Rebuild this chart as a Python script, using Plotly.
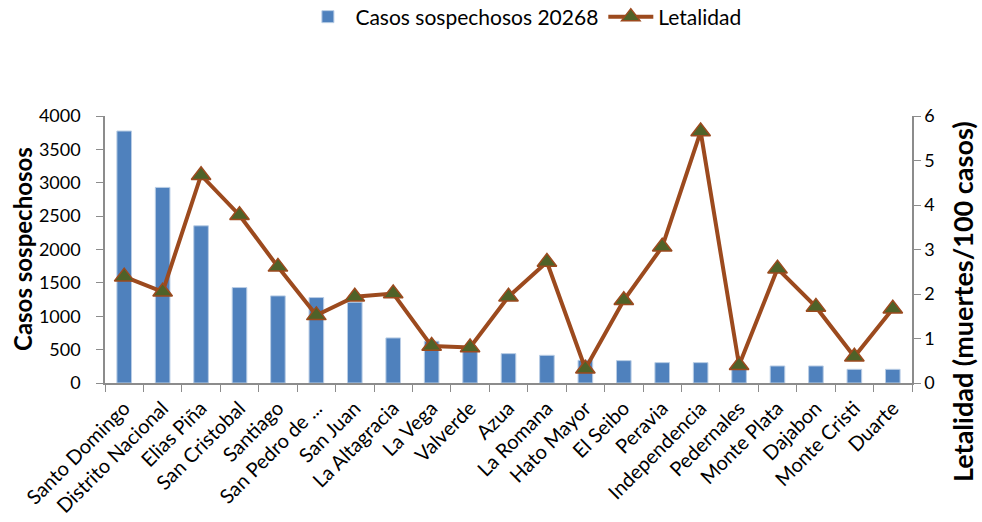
import plotly.graph_objects as go

provincias = [
    "Santo Domingo", "Distrito Nacional", "Elias Piña", "San Cristobal", "Santiago",
    "San Pedro de ...", "San Juan", "La Altagracia", "La Vega", "Valverde", "Azua",
    "La Romana", "Hato Mayor", "El Seibo", "Peravia", "Independencia", "Pedernales",
    "Monte Plata", "Dajabon", "Monte Cristi", "Duarte",
]
casos = [3775, 2930, 2355, 1430, 1305, 1280, 1210, 675, 625, 515, 440,
         415, 340, 335, 305, 305, 255, 255, 255, 205, 205]
letalidad = [2.39, 2.05, 4.67, 3.77, 2.61, 1.52, 1.94, 2.01, 0.83, 0.80, 1.94,
             2.72, 0.32, 1.86, 3.06, 5.65, 0.40, 2.57, 1.71, 0.59, 1.67]
y_ticks = [0, 500, 1000, 1500, 2000, 2500, 3000, 3500, 4000]
y2_ticks = [0, 1, 2, 3, 4, 5, 6]

FONT = "Lato"
AXIS_GRAY = "#8c8c8c"

fig = go.Figure()
fig.add_trace(go.Bar(
    x=provincias, y=casos, name="Casos sospechosos 20268",
    marker=dict(color="#4F81BD", line=dict(color="#b9cde5", width=1)),
    width=0.38,
))
fig.add_trace(go.Scatter(
    x=provincias, y=letalidad, name="Letalidad", yaxis="y2",
    mode="lines+markers",
    line=dict(color="#9C4A1E", width=4),
    marker=dict(symbol="triangle-up", size=17, color="#4F6228",
                line=dict(color="#9C4A1E", width=1.5)),
))

fig.update_layout(
    width=982, height=522,
    margin=dict(l=105, r=70, t=116, b=139, autoexpand=False),
    plot_bgcolor="white", paper_bgcolor="white",
    font=dict(family=FONT, size=18, color="black"),
    showlegend=True,
    legend=dict(orientation="h", x=0.533, xanchor="center", xref="container",
                y=1 - 17 / 522, yanchor="middle", yref="container",
                font=dict(family=FONT, size=21), itemwidth=45,
                traceorder="normal"),
    xaxis=dict(
        type="category", range=[-0.5, len(provincias) - 0.5], tickangle=-45,
        showline=True, linecolor=AXIS_GRAY, linewidth=1.5,
        ticks="outside", tickson="boundaries", ticklen=7, tickcolor=AXIS_GRAY,
        showgrid=False, tickfont=dict(family=FONT, size=20), ticklabelstandoff=4,
    ),
    yaxis=dict(
        range=[0, 4000], tickvals=y_ticks, showline=True, linecolor=AXIS_GRAY, linewidth=1.5,
        ticks="outside", ticklen=7, tickcolor=AXIS_GRAY, showgrid=False, zeroline=False,
        tickfont=dict(family=FONT, size=18), ticklabelstandoff=12,
    ),
    yaxis2=dict(
        range=[0, 6], tickvals=y2_ticks, overlaying="y", side="right", showline=True,
        linecolor=AXIS_GRAY, linewidth=1.5, ticks="outside", ticklen=7, tickcolor=AXIS_GRAY,
        showgrid=False, zeroline=False, tickfont=dict(family=FONT, size=18),
    ),
    bargap=0.6,
    annotations=[
        dict(text="<b>Casos sospechosos</b>", textangle=-90, xref="paper", yref="paper",
             x=(22 - 105) / 807, y=(383 - 249) / 267, xanchor="center", yanchor="middle",
             showarrow=False, font=dict(family=FONT, size=24)),
        dict(text="<b>Letalidad (muertes/100 casos)</b>", textangle=-90, xref="paper",
             yref="paper", x=(962 - 105) / 807, y=(383 - 302) / 267, xanchor="center",
             yanchor="middle", showarrow=False, font=dict(family=FONT, size=27)),
    ],
)

fig.write_html("out.html")
